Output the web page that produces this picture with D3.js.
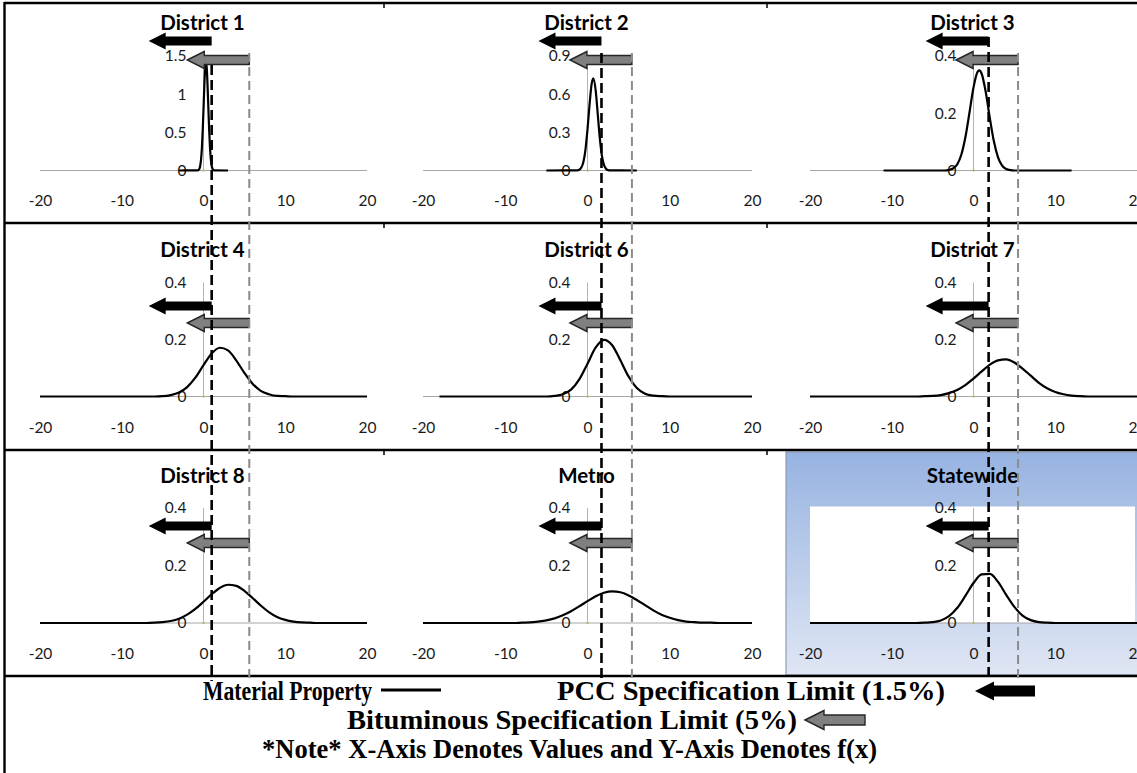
<!DOCTYPE html>
<html>
<head>
<meta charset="utf-8">
<script src="https://cdn.jsdelivr.net/npm/d3@7"></script>
<style>
  html, body { margin: 0; padding: 0; background: #fff; }
  svg { display: block; }
</style>
</head>
<body>
<svg id="chart" width="1137" height="773"></svg>
<script>
// x grid shared by the wide panels (-20 .. 20)
const xGrid = [-20, -19, -18, -17, -16, -15, -14, -13, -12, -11, -10, -9, -8, -7, -6, -5, -4, -3, -2, -1,
  0, 1, 2, 3, 4, 5, 6, 7, 8, 9, 10, 11, 12, 13, 14, 15, 16, 17, 18, 19, 20];

const tickValues = [-20, -10, 0, 10, 20];
const tickLabels = ["-20", "-10", "0", "10", "20"];

// narrow panels keep their own x points
const d1X = [-3, -0.7, -0.5, -0.4, -0.3, -0.2, -0.1, 0, 0.1, 0.2, 0.3, 0.4, 0.5, 0.6, 0.7, 0.8, 0.9, 1.0, 1.1, 1.3, 3];
const d1Y = [0, 0.002, 0.024, 0.063, 0.144, 0.289, 0.514, 0.803, 1.104, 1.337, 1.425, 1.337, 1.104, 0.803, 0.514, 0.289, 0.144, 0.063, 0.024, 0.002, 0];

const d2X = [-5, -1.25, -1, -0.75, -0.5, -0.25, 0, 0.25, 0.5, 0.7, 1, 1.25, 1.5, 1.75, 2, 2.25, 2.5, 2.75, 6];
const d2Y = [0, 0.001, 0.006, 0.023, 0.067, 0.163, 0.323, 0.519, 0.679, 0.725, 0.625, 0.44, 0.252, 0.117, 0.044, 0.014, 0.003, 0.001, 0];

const d3X = [-11, -3.5, -3, -2.5, -2, -1.5, -1, -0.5, 0, 0.5, 0.7, 1, 1.5, 2, 2.5, 3, 3.5, 4, 4.5, 5, 12];
const d3Y = [0, 0, 0.002, 0.007, 0.021, 0.054, 0.115, 0.201, 0.29, 0.345, 0.35, 0.338, 0.274, 0.183, 0.101, 0.046, 0.017, 0.005, 0.001, 0, 0];

const d4Y = [0, 0, 0, 0, 0, 0, 0, 0, 0, 0, 0, 0, 0, 0, 0, 0.001, 0.005, 0.014, 0.033, 0.066,
  0.110, 0.151, 0.171, 0.162, 0.127, 0.083, 0.045, 0.020, 0.008, 0.002, 0.001, 0, 0, 0, 0, 0, 0, 0, 0, 0, 0];
const d6Y = [null, null, 0, 0, 0, 0, 0, 0, 0, 0, 0, 0, 0, 0, 0, 0, 0.002, 0.008, 0.024, 0.060,
  0.115, 0.172, 0.199, 0.180, 0.127, 0.070, 0.030, 0.010, 0.003, 0.001, 0, 0, 0, 0, 0, 0, 0, 0, 0, 0, 0];
const d7Y = [0, 0, 0, 0, 0, 0, 0, 0, 0, 0, 0, 0, 0, 0, 0.001, 0.002, 0.005, 0.012, 0.023, 0.040,
  0.063, 0.088, 0.112, 0.127, 0.130, 0.119, 0.098, 0.073, 0.048, 0.029, 0.016, 0.008, 0.003, 0.001, 0, 0, 0, 0, 0, 0, 0];
const d8Y = [0, 0, 0, 0, 0, 0, 0, 0, 0, 0, 0, 0, 0, 0, 0.001, 0.003, 0.007, 0.015, 0.029, 0.049,
  0.074, 0.100, 0.122, 0.133, 0.129, 0.112, 0.087, 0.061, 0.038, 0.021, 0.011, 0.005, 0.002, 0.001, 0, 0, 0, 0, 0, 0, 0];
const metroY = [0, 0, 0, 0, 0, 0, 0, 0, 0, 0, 0, 0, 0.001, 0.002, 0.005, 0.009, 0.016, 0.027, 0.041, 0.058,
  0.076, 0.093, 0.105, 0.110, 0.107, 0.096, 0.080, 0.062, 0.044, 0.029, 0.018, 0.010, 0.005, 0.003, 0.001, 0.001, 0, 0, 0, 0, 0];
const stateY = [0, 0, 0, 0, 0, 0, 0, 0, 0, 0, 0, 0, 0, 0, 0.001, 0.003, 0.009, 0.024, 0.052, 0.094,
  0.139, 0.169, 0.171, 0.143, 0.098, 0.056, 0.026, 0.010, 0.003, 0.001, 0, 0, 0, 0, 0, 0, 0, 0, 0, 0, 0];

const titles = ["District 1", "District 2", "District 3", "District 4", "District 6", "District 7",
  "District 8", "Metro", "Statewide"];
const yMax = [1.5, 0.9, 0.4, 0.4, 0.4, 0.4, 0.4, 0.4, 0.4];
const yTicks = [[0, 0.5, 1, 1.5], [0, 0.3, 0.6, 0.9], [0, 0.2, 0.4],
  [0, 0.2, 0.4], [0, 0.2, 0.4], [0, 0.2, 0.4], [0, 0.2, 0.4], [0, 0.2, 0.4], [0, 0.2, 0.4]];
const seriesX = [d1X, d2X, d3X, xGrid, xGrid, xGrid, xGrid, xGrid, xGrid];
const seriesY = [d1Y, d2Y, d3Y, d4Y, d6Y, d7Y, d8Y, metroY, stateY];

// where the limit lines were drawn in each column (x units)
const pccDrawn = [1.0, 1.7, 1.85];
const bitDrawn = [5.6, 5.4, 5.45];

const legendRows = [
  "Material Property",
  "PCC Specification Limit (1.5%)",
  "Bituminous Specification Limit (5%)",
  "*Note* X-Axis Denotes Values and Y-Axis Denotes f(x)"
];

// ---- layout ----
const W = 1137, H = 773;
const cols = [{ x0: 40, x1: 367 }, { x0: 423, x1: 752 }, { x0: 810, x1: 1137 }];
const rows = [
  { zero: 170.5, top: 56, label: 200, title: 30, arrows: [41, 60] },
  { zero: 396.5, top: 282.5, label: 427, title: 257, arrows: [306, 323] },
  { zero: 623, top: 508, label: 653, title: 483, arrows: [526, 543] }
];
const sepY = [3, 223, 450, 676];
const lineTop = { pcc: [65, 53, 37], bit: [53, 53, 53] };
const lineBottom = 681;

const labelFont = "Lato, 'Open Sans', sans-serif";

const svg = d3.select("#chart");

const defs = svg.append("defs");
const grad = defs.append("linearGradient")
  .attr("id", "state-bg")
  .attr("x1", "0%").attr("x2", "0%").attr("y1", "0%").attr("y2", "100%");
grad.append("stop").attr("offset", "0%").attr("stop-color", "#97b3e1");
grad.append("stop").attr("offset", "100%").attr("stop-color", "#dfe6f4");

// statewide panel background
svg.append("rect")
  .attr("x", 786).attr("y", 452)
  .attr("width", 360).attr("height", 223)
  .attr("fill", "url(#state-bg)")
  .attr("stroke", "#8c9cb4")
  .attr("stroke-width", 1.2);

function arrowPath(xr, cy, len, bh, hh, hl) {
  const xl = xr - len;
  return `M${xl},${cy} L${xl + hl},${cy - hh} L${xl + hl},${cy - bh} L${xr},${cy - bh}` +
    ` L${xr},${cy + bh} L${xl + hl},${cy + bh} L${xl + hl},${cy + hh} Z`;
}

const xScales = cols.map((c) => d3.scaleLinear().domain([-20, 20]).range([c.x0, c.x1]));

titles.forEach((title, i) => {
  const ci = i % 3;
  const r = rows[Math.floor(i / 3)];
  const x = xScales[ci];
  const y = d3.scaleLinear().domain([0, yMax[i]]).range([r.zero, r.top]);
  const g = svg.append("g");

  if (i === 8) {
    g.append("rect")
      .attr("x", x(-20)).attr("y", y(yMax[i]) - 1.5)
      .attr("width", x(20) - x(-20) - 2)
      .attr("height", y(0) - y(yMax[i]) + 1.5)
      .attr("fill", "#fff");
  }

  // axis lines
  g.append("line")
    .attr("x1", x(-20)).attr("x2", x(20))
    .attr("y1", y(0)).attr("y2", y(0))
    .attr("stroke", "#a6a6a6").attr("stroke-width", 1);
  g.append("line")
    .attr("x1", x(0)).attr("x2", x(0))
    .attr("y1", y(0)).attr("y2", y(yMax[i]))
    .attr("stroke", "#b3b3b3").attr("stroke-width", 1);

  // x labels
  g.append("g")
    .attr("transform", `translate(0,${r.label - 5.5})`)
    .call(d3.axisBottom(x).tickValues(tickValues).tickFormat((d, k) => tickLabels[k])
      .tickSize(0).tickPadding(0))
    .call((a) => a.select(".domain").remove())
    .selectAll("text")
    .attr("font-family", labelFont).attr("font-size", 15.5).attr("fill", "#1a1a1a");

  // y labels
  g.append("g")
    .attr("transform", `translate(${x(0)},0)`)
    .call(d3.axisLeft(y).tickValues(yTicks[i]).tickFormat((d) => String(d))
      .tickSize(0).tickPadding(17))
    .call((a) => a.select(".domain").remove())
    .selectAll("text")
    .attr("font-family", labelFont).attr("font-size", 15.5).attr("fill", "#1a1a1a");

  // origin marker
  g.append("rect")
    .attr("x", x(0) - 1).attr("y", y(0) - 1)
    .attr("width", 2).attr("height", 2)
    .attr("fill", "#b8b860");

  // curve
  const pts = seriesX[i].map((v, k) => [v, seriesY[i][k]]);
  g.append("path")
    .datum(pts)
    .attr("fill", "none")
    .attr("stroke", "#000")
    .attr("stroke-width", 2.2)
    .attr("d", d3.line()
      .defined((d) => d[1] !== null)
      .x((d) => x(d[0]))
      .y((d) => y(d[1]))
      .curve(d3.curveMonotoneX));

  // title
  g.append("text")
    .attr("x", x(0) - 1)
    .attr("y", r.title)
    .attr("text-anchor", "middle")
    .attr("font-family", labelFont)
    .attr("font-weight", "bold")
    .attr("font-size", 20.5)
    .attr("fill", "#000")
    .text(title);
});

// separator lines
sepY.forEach((yy) => {
  svg.append("line")
    .attr("x1", 4).attr("x2", W)
    .attr("y1", yy).attr("y2", yy)
    .attr("stroke", "#000").attr("stroke-width", 2.6);
});
svg.append("line")
  .attr("x1", 4.5).attr("x2", 4.5)
  .attr("y1", 2).attr("y2", H)
  .attr("stroke", "#000").attr("stroke-width", 2.4);
[384, 767].forEach((xx) => {
  sepY.slice(0, 3).forEach((yy) => {
    svg.append("line")
      .attr("x1", xx).attr("x2", xx)
      .attr("y1", yy).attr("y2", yy + 5)
      .attr("stroke", "#000").attr("stroke-width", 1.5);
  });
});

// spec limit arrows and dashed lines
cols.forEach((c, ci) => {
  const x = xScales[ci];
  const xp = x(pccDrawn[ci]);
  const xb = x(bitDrawn[ci]);
  rows.forEach((r) => {
    svg.append("path")
      .attr("d", arrowPath(xp, r.arrows[0], 63, 4.5, 8.5, 17))
      .attr("fill", "#000");
    svg.append("path")
      .attr("d", arrowPath(xb, r.arrows[1], 62, 4.5, 8.5, 17))
      .attr("fill", "#808080")
      .attr("stroke", "#262626")
      .attr("stroke-width", 1.4);
  });
  svg.append("line")
    .attr("x1", xp).attr("x2", xp)
    .attr("y1", lineTop.pcc[ci]).attr("y2", lineBottom)
    .attr("stroke", "#000").attr("stroke-width", 2.6)
    .attr("stroke-dasharray", "10,5");
  svg.append("line")
    .attr("x1", xb).attr("x2", xb)
    .attr("y1", lineTop.bit[ci]).attr("y2", lineBottom)
    .attr("stroke", "#8c8c8c").attr("stroke-width", 2)
    .attr("stroke-dasharray", "9,5");
});

// legend
const legendFont = "'Liberation Serif', 'Times New Roman', serif";
const leg = svg.append("g")
  .attr("font-family", legendFont)
  .attr("font-weight", "bold")
  .attr("font-size", 28)
  .attr("fill", "#000");

function legendText(txt, x, y, len) {
  leg.append("text")
    .attr("x", x).attr("y", y)
    .attr("textLength", len)
    .attr("lengthAdjust", "spacingAndGlyphs")
    .text(txt);
}
legendText(legendRows[0], 203, 700, 169);
leg.append("line")
  .attr("x1", 381).attr("x2", 441).attr("y1", 690).attr("y2", 690)
  .attr("stroke", "#000").attr("stroke-width", 3);
legendText(legendRows[1], 557, 700, 388);
leg.append("path")
  .attr("d", arrowPath(1035, 691, 60, 5.5, 9.5, 19))
  .attr("fill", "#000");
legendText(legendRows[2], 347, 729, 450);
leg.append("path")
  .attr("d", arrowPath(865, 720, 60, 5, 9.5, 19))
  .attr("fill", "#808080")
  .attr("stroke", "#262626")
  .attr("stroke-width", 1.4);
legendText(legendRows[3], 262, 758, 615);
</script>
</body>
</html>
